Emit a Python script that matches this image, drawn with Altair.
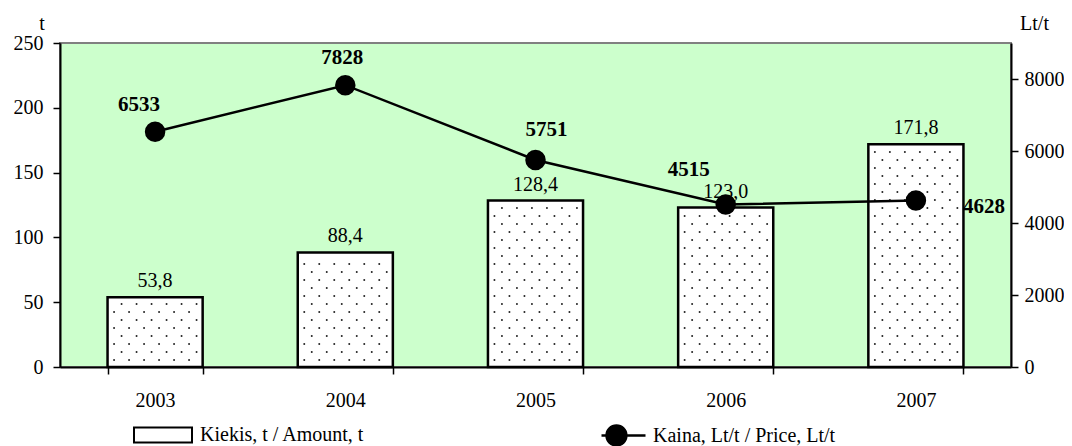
import altair as alt
import pandas as pd

years = ["2003", "2004", "2005", "2006", "2007"]
amount = [53.8, 88.4, 128.4, 123.0, 171.8]
amount_labels = ["53,8", "88,4", "128,4", "123,0", "171,8"]
price = [6533, 7828, 5751, 4515, 4628]
price_labels = ["6533", "7828", "5751", "4515", "4628"]

amount_name = "Kiekis, t / Amount, t"
price_name = "Kaina, Lt/t / Price, Lt/t"

# label placement offsets (px) for the price labels, as placed in the original
price_label_offsets = {"2003": (-16, -27), "2004": (-3, -27), "2005": (11, -30),
                       "2006": (-37, -34), "2007": (68, 7)}

df = pd.DataFrame({"year": years, "amount": amount, "amount_label": amount_labels,
                   "price": price, "price_label": price_labels})

W, H = 951, 324
FONT = "Liberation Serif"
FS = 20
STEP = W / len(years)

xscale = alt.Scale(type="band", domain=years, paddingInner=0.5, paddingOuter=0.25)
yl_scale = alt.Scale(domain=[0, 250], nice=False)
yr_scale = alt.Scale(domain=[0, 9000], nice=False)

base = alt.Chart(df)

x_axis = alt.Axis(title=None, labelAngle=0, tickBand="extent", domainColor="black",
                  domainWidth=2, tickColor="black", tickWidth=1.5, tickSize=7,
                  labelPadding=16, labelFont=FONT, labelFontSize=FS, labelColor="black",
                  grid=False)
yl_axis = alt.Axis(title="t", titleAngle=0, titleX=-18.5, titleY=-14, titleAlign="center",
                   titleBaseline="alphabetic", titleFont=FONT, titleFontSize=FS,
                   titleFontWeight="normal", titleColor="black",
                   values=[0, 50, 100, 150, 200, 250], format="d", domainColor="black",
                   domainWidth=2, tickColor="black", tickWidth=1.5, tickSize=7,
                   labelPadding=10, labelFont=FONT, labelFontSize=FS, labelColor="black",
                   grid=False)
yr_axis = alt.Axis(orient="right", title="Lt/t", titleAngle=0, titleX=23, titleY=-14,
                   titleAlign="center", titleBaseline="alphabetic", titleFont=FONT,
                   titleFontSize=FS, titleFontWeight="normal", titleColor="black",
                   values=[0, 2000, 4000, 6000, 8000], format="d", domainColor="black",
                   domainWidth=2, tickColor="black", tickWidth=1.5, tickSize=7,
                   labelPadding=6, labelFont=FONT, labelFontSize=FS, labelColor="black",
                   grid=False)

bars = base.transform_calculate(series=f"'{amount_name}'").mark_bar(
    stroke="black", strokeWidth=2.5
).encode(
    x=alt.X("year:N", scale=xscale, axis=x_axis),
    y=alt.Y("amount:Q", scale=yl_scale, axis=yl_axis),
    fill=alt.Fill("series:N", scale=alt.Scale(range=["white"]),
                  legend=alt.Legend(title=None, orient="none", legendX=73, legendY=362,
                                    symbolType="M-1,-0.26H1V0.26H-1Z", symbolSize=3364,
                                    symbolStrokeColor="black", symbolStrokeWidth=2,
                                    labelFont=FONT, labelFontSize=FS, labelColor="black",
                                    labelOffset=7, labelLimit=0, padding=0)),
)

# dotted fill pattern inside the bars
dots = base.transform_window(idx="row_number()").transform_calculate(
    col="sequence(0, 7)", row="sequence(0, 40)"
).transform_flatten(["col"]).transform_flatten(["row"]).transform_calculate(
    px=f"(datum.idx - 1 + 0.25) * {STEP} + 6.5 + datum.col * 15 + (datum.row % 2) * 7.5",
    py="7 + datum.row * 8",
).transform_filter(
    f"datum.py < datum.amount * {H} / 250 - 4 && datum.px < (datum.idx - 1 + 0.75) * {STEP} - 3"
).mark_circle(size=4, color="#222222", opacity=1).encode(
    x=alt.X("px:Q", scale=alt.Scale(domain=[0, W], nice=False), axis=None),
    y=alt.Y("py:Q", scale=alt.Scale(domain=[0, H], nice=False), axis=None),
)

bar_labels = base.mark_text(baseline="alphabetic", dy=-10, font=FONT, fontSize=FS,
                            color="black").encode(
    x=alt.X("year:N", scale=xscale, axis=None),
    y=alt.Y("amount:Q", scale=yl_scale, axis=None),
    text="amount_label:N",
)

line = base.transform_calculate(series=f"'{price_name}'").mark_line(strokeWidth=2.5).encode(
    x=alt.X("year:N", scale=xscale, axis=None),
    y=alt.Y("price:Q", scale=yr_scale, axis=yr_axis),
    stroke=alt.Stroke("series:N", scale=alt.Scale(range=["black"]),
                      legend=alt.Legend(title=None, orient="none", legendX=540, legendY=369,
                                        symbolType="M-1,0L1,0M-0.77,0A0.45,0.45,0,1,0,0.13,0A0.45,0.45,0,1,0,-0.77,0Z",
                                        symbolSize=1936, symbolStrokeWidth=2.5,
                                        symbolFillColor="black", symbolStrokeColor="black",
                                        labelFont=FONT, labelFontSize=FS, labelColor="black",
                                        labelOffset=6, labelLimit=0, padding=0)),
)

points = base.mark_circle(size=420, color="black", opacity=1).encode(
    x=alt.X("year:N", scale=xscale, axis=None),
    y=alt.Y("price:Q", scale=yr_scale, axis=None),
)

price_texts = []
for yr in years:
    dx, dy = price_label_offsets[yr]
    price_texts.append(
        base.transform_filter(alt.datum.year == yr).mark_text(
            dx=dx, dy=dy, font=FONT, fontSize=21, fontWeight="bold", color="black",
            baseline="middle", align="center"
        ).encode(
            x=alt.X("year:N", scale=xscale, axis=None),
            y=alt.Y("price:Q", scale=yr_scale, axis=None),
            text="price_label:N",
        )
    )

chart = alt.layer(bars, dots, bar_labels, line, points, *price_texts).resolve_scale(
    x="independent", y="independent"
).properties(
    width=W, height=H,
    padding={"left": 52, "top": 35, "right": 53, "bottom": 79},
    autosize=alt.AutoSizeParams(type="none"),
).configure_view(
    fill="#CCFFCC", stroke="#808080", strokeWidth=2
).configure_legend(symbolBaseFillColor="black")

chart.save("out.html", embed_options={"renderer": "svg", "actions": False})
